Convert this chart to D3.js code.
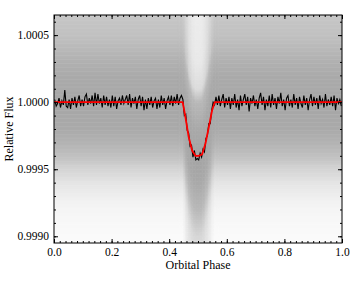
<!DOCTYPE html>
<html>
<head>
<meta charset="utf-8">
<script src="https://cdn.jsdelivr.net/npm/d3@7"></script>
<style>
  body { margin: 0; background: #fff; }
  svg { display: block; }
  svg text { font-family: "Times New Roman", "Liberation Serif", Times, serif !important; fill: #000; }
</style>
</head>
<body>
<svg id="chart" width="360" height="288"></svg>
<script>
// eclipse model (red line)
const modelPhase = [0, 0.4468, 0.4562, 0.4677, 0.4795, 0.4910, 0.5024, 0.5142, 0.5257, 0.5372, 0.5490, 0.5580, 1.0];
const modelFlux  = [1.0, 1.0, 0.99989, 0.99974, 0.99964, 0.99960, 0.99960, 0.99961, 0.99969, 0.99981, 0.99994, 1.0, 1.0];

// binned light curve (black line): flux - 1 in units of 1e-5, 200 bins of 0.005 in phase
const binDev = [
  2, -3, -1, 3, -4, 1, -2, 9, -3, -4,
  2, -5, 3, -2, 4, -4, 1, 5, -3, 2,
  -3, 4, 6, -2, 3, -1, 5, -3, 7, -2,
  6, -1, 3, -4, 5, -2, 4, -3, 2, -4,
  5, -3, 4, -5, 1, 3, -2, 5, -1, 2,
  5, -2, 6, -4, 3, -1, 4, -5, 2, 5,
  -3, 4, -6, 2, -5, 3, -2, 4, -4, 1,
  3, -5, 2, -4, 5, -2, 3, -5, 1, 4,
  -2, 5, -3, 4, -1, 6, -2, 3, 5,
  2, -10, -9, -21, -23, -33, -32, -41, -36, -43, -42, -43, -38, -41, -35, -37, -27, -25, -16, -16, -6, 0, -2,
  4, -2, 5, -3, 2, 6, -4, 3, -2, 4,
  -5, 3, -2, 6, -4, 2, -6, 5, -3, 2,
  6, -2, 4, -7, 3, -1, 5, -3, 2, -5,
  3, 7, -2, 4, -6, 2, -3, 5, -4, 6,
  -2, 3, -5, 4, -1, 7, -3, 2, -6, 3,
  5, -3, 2, -4, 6, -2, 3, -5, 4, -1,
  -4, 5, -2, 3, -6, 2, 6, -3, 4, -2,
  3, -5, 5, -1, 2, -4, 6, -3, 2, -2,
  4, -3, 5, -6, 3, -1, 2, -3
];

// how crowded the grey points are, against distance from the model (units of 1e-4)
const profOffset = [-11, -10, -9, -8, -7, -6, -5, -4, -3, -2, 0, 2, 3, 4, 5, 6.5, 8, 11];
const profOut    = [0.04, 0.05, 0.07, 0.10, 0.16, 0.26, 0.42, 0.62, 0.76, 0.84, 0.87, 0.84, 0.78, 0.70, 0.62, 0.56, 0.52, 0.48];
const profInOffset = [-7, -6, -5, -4, -2, 0, 2, 4, 5, 7, 11];
const profIn       = [0.35, 0.40, 0.55, 0.70, 0.85, 0.90, 0.85, 0.70, 0.35, 0.22, 0.18];

const xTicks = [0, 0.2, 0.4, 0.6, 0.8, 1.0];
const yTicks = [0.9990, 0.9995, 1.0000, 1.0005];

const W = 360, H = 288;
const margin = { top: 15, right: 18, bottom: 45, left: 54 };

const svg = d3.select('#chart');
const x = d3.scaleLinear().domain([0, 1]).range([margin.left, W - margin.right]);
const y = d3.scaleLinear().domain([0.99895, 1.00065]).range([H - margin.bottom, margin.top]);

svg.append('clipPath').attr('id', 'clip')
  .append('rect')
  .attr('x', x(0)).attr('y', y(1.00065))
  .attr('width', x(1) - x(0)).attr('height', y(0.99895) - y(1.00065));

const plot = svg.append('g').attr('clip-path', 'url(#clip)');

// scatter density
const model = d3.scaleLinear().domain(modelPhase).range(modelFlux);
const outDens = d3.scaleLinear().domain(profOffset).range(profOut).clamp(true);
const inDens = d3.scaleLinear().domain(profInOffset).range(profIn).clamp(true);
const grey = d3.interpolateRgb('#ffffff', '#9a9a9a');

const xEdges = [0].concat(d3.range(86, 115).map(k => k * 0.005)).concat([1]);
const cells = [];
for (let c = 0; c < xEdges.length - 1; c++) {
  const ph = (xEdges[c] + xEdges[c + 1]) / 2;
  const m = model(ph);
  const w = (1 - m) / 0.0004;
  for (let r = 0; r < 170; r++) {
    const f = 0.99895 + r * 1e-5;
    const off = (f + 0.5e-5 - m) * 1e4;
    const d = (1 - w) * outDens(off) + w * inDens(off);
    cells.push({ x0: xEdges[c], x1: xEdges[c + 1], f0: f, f1: f + 1e-5, d });
  }
}

plot.append('g').selectAll('rect')
  .data(cells)
  .join('rect')
  .attr('x', d => x(d.x0))
  .attr('y', d => y(d.f1))
  .attr('width', d => x(d.x1) - x(d.x0) + 0.5)
  .attr('height', d => y(d.f0) - y(d.f1) + 0.5)
  .attr('fill', d => grey(d.d));

// binned data
const bins = binDev.map((v, i) => ({ phase: (i + 0.5) / binDev.length, flux: 1 + v * 1e-5 }));
plot.append('path')
  .datum(bins)
  .attr('fill', 'none')
  .attr('stroke', '#000')
  .attr('stroke-width', 1.1)
  .attr('d', d3.line().x(d => x(d.phase)).y(d => y(d.flux)));

// model
plot.append('path')
  .datum(modelPhase.map((p, i) => ({ phase: p, flux: modelFlux[i] })))
  .attr('fill', 'none')
  .attr('stroke', '#ff0000')
  .attr('stroke-width', 1.8)
  .attr('stroke-linejoin', 'round')
  .attr('d', d3.line().x(d => x(d.phase)).y(d => y(d.flux)));

// axes: inward ticks on all four sides
const xMinor = d3.range(0, 51).map(k => k * 0.02);
const yMinor = d3.range(0, 17).map(k => 0.9990 + k * 0.0001);

function addAxis(axis, transform) {
  const g = svg.append('g').attr('transform', transform).call(axis);
  g.select('.domain').remove();
  g.attr('font-family', null);
  g.selectAll('text').attr('font-size', 11.5);
  g.selectAll('line').attr('stroke', '#000');
  return g;
}

const bottomY = H - margin.bottom;
const rightX = W - margin.right;
addAxis(d3.axisBottom(x).tickValues(xMinor).tickSize(-2).tickFormat(''), `translate(0,${bottomY})`);
addAxis(d3.axisBottom(x).tickValues(xTicks).tickSize(-4).tickPadding(5).tickFormat(d3.format('.1f')), `translate(0,${bottomY})`);
addAxis(d3.axisTop(x).tickValues(xMinor).tickSize(-2).tickFormat(''), `translate(0,${margin.top})`);
addAxis(d3.axisTop(x).tickValues(xTicks).tickSize(-4).tickFormat(''), `translate(0,${margin.top})`);
addAxis(d3.axisLeft(y).tickValues(yMinor).tickSize(-2).tickFormat(''), `translate(${margin.left},0)`);
addAxis(d3.axisLeft(y).tickValues(yTicks).tickSize(-4).tickPadding(5).tickFormat(d3.format('.4f')), `translate(${margin.left},0)`);
addAxis(d3.axisRight(y).tickValues(yMinor).tickSize(-2).tickFormat(''), `translate(${rightX},0)`);
addAxis(d3.axisRight(y).tickValues(yTicks).tickSize(-4).tickFormat(''), `translate(${rightX},0)`);

svg.append('rect')
  .attr('x', x(0)).attr('y', margin.top)
  .attr('width', x(1) - x(0)).attr('height', bottomY - margin.top)
  .attr('fill', 'none').attr('stroke', '#000').attr('stroke-width', 1);

svg.append('text')
  .attr('x', (x(0) + x(1)) / 2).attr('y', 269)
  .attr('text-anchor', 'middle').attr('font-size', 12)
  .text('Orbital Phase');

svg.append('text')
  .attr('transform', `translate(13,${(margin.top + bottomY) / 2}) rotate(-90)`)
  .attr('text-anchor', 'middle').attr('font-size', 12)
  .text('Relative Flux');
</script>
</body>
</html>
